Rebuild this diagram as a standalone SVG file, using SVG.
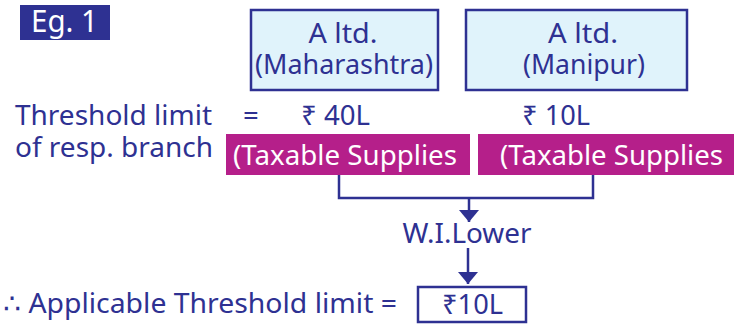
<svg xmlns="http://www.w3.org/2000/svg" width="735" height="324" viewBox="0 0 735 324">
<defs>
<style>
text{font-family:"Noto Sans","DejaVu Sans",sans-serif;}
.b{fill:#2E3192;font-size:27.5px;}
.w{fill:#FFFFFF;font-size:27.5px;}
.box{fill:#E0F3FB;stroke:#2E3192;stroke-width:2.5;}
.mag{fill:#B51F8A;}
.ln{fill:none;stroke:#2E3192;stroke-width:2.5;}
</style>
<marker id="ah" viewBox="0 0 12 20" refX="12" refY="10" markerWidth="12" markerHeight="20" markerUnits="userSpaceOnUse" orient="auto">
<path d="M0,0 L12,10 L0,20 Z" fill="#2E3192"/>
</marker>
</defs>
<rect width="735" height="324" fill="#FFFFFF"/>
<g id="eg1">
<rect x="20" y="5" width="90" height="35" fill="#2E3192"/>
<text x="31" y="32" class="w" style="font-size:31px" textLength="67" lengthAdjust="spacingAndGlyphs">Eg. 1</text>
</g>
<g id="maharashtra">
<rect x="251" y="10" width="187" height="80" class="box"/>
<text x="343" y="43" class="b" text-anchor="middle" textLength="69" lengthAdjust="spacingAndGlyphs">A ltd.</text>
<text x="344" y="74" class="b" text-anchor="middle" textLength="178" lengthAdjust="spacingAndGlyphs">(Maharashtra)</text>
</g>
<g id="manipur">
<rect x="466" y="10" width="221" height="80" class="box"/>
<text x="583" y="43" class="b" text-anchor="middle" textLength="70" lengthAdjust="spacingAndGlyphs">A ltd.</text>
<text x="584" y="74" class="b" text-anchor="middle" textLength="122" lengthAdjust="spacingAndGlyphs">(Manipur)</text>
</g>
<g id="threshold-label">
<text x="15" y="125" class="b" textLength="197" lengthAdjust="spacingAndGlyphs">Threshold limit</text>
<text x="15" y="157" class="b" textLength="198" lengthAdjust="spacingAndGlyphs">of resp. branch</text>
<text x="243" y="125" class="b">=</text>
<text x="301" y="125" class="b" textLength="69" lengthAdjust="spacingAndGlyphs">₹ 40L</text>
<text x="522" y="125" class="b" textLength="68" lengthAdjust="spacingAndGlyphs">₹ 10L</text>
</g>
<g id="taxable1">
<rect x="226" y="134" width="244" height="41" class="mag"/>
<text x="233" y="165" class="w" textLength="224" lengthAdjust="spacingAndGlyphs">(Taxable Supplies</text>
</g>
<g id="taxable2">
<rect x="478" y="134" width="256" height="41" class="mag"/>
<text x="500" y="165" class="w" textLength="223" lengthAdjust="spacingAndGlyphs">(Taxable Supplies</text>
</g>
<g id="connectors">
<path d="M339,175 V198 H593 V175" class="ln"/>
<line x1="469" y1="198" x2="469" y2="222" class="ln" marker-end="url(#ah)"/>
<line x1="468" y1="248" x2="468" y2="284" class="ln" marker-end="url(#ah)"/>
</g>
<g id="wilower">
<text x="467" y="243" class="b" text-anchor="middle" textLength="129" lengthAdjust="spacingAndGlyphs">W.I.Lower</text>
</g>
<g id="applicable">
<text x="3" y="313" class="b" textLength="394" lengthAdjust="spacingAndGlyphs">∴ Applicable Threshold limit =</text>
</g>
<g id="result">
<rect x="418" y="287" width="108" height="35" fill="#FFFFFF" stroke="#2E3192" stroke-width="2.5"/>
<text x="442" y="314" class="b" textLength="61" lengthAdjust="spacingAndGlyphs">₹10L</text>
</g>
</svg>
